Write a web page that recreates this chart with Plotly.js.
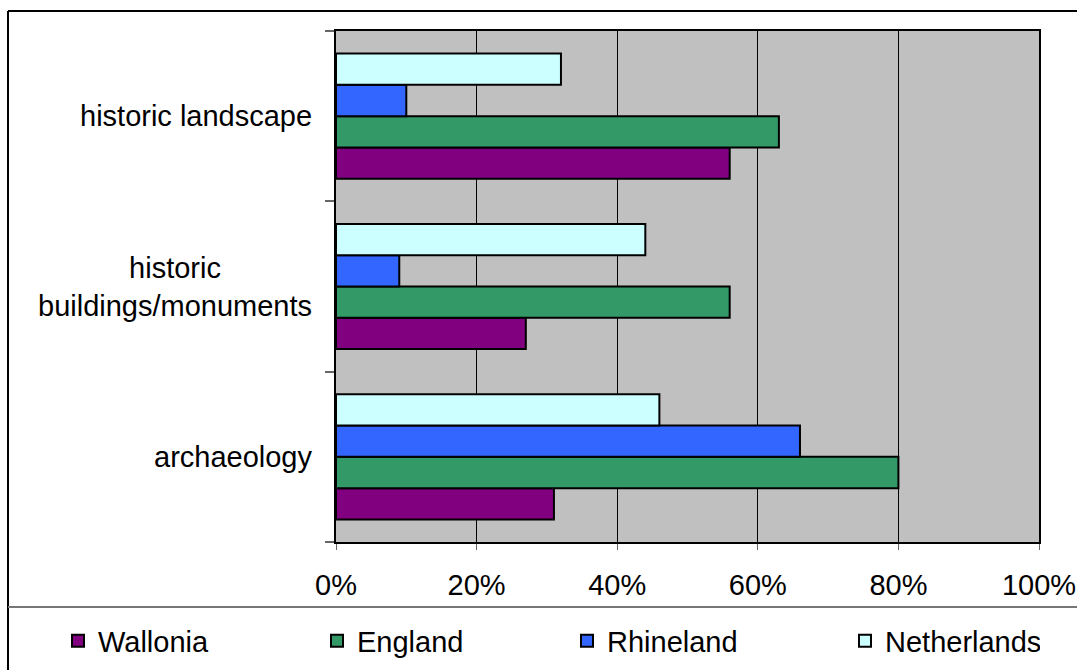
<!DOCTYPE html>
<html>
<head>
<meta charset="utf-8">
<script src="https://cdn.plot.ly/plotly-3.0.1.min.js"></script>
<style>
html,body{margin:0;padding:0;background:#fff;}
#chart{width:1077px;height:670px;}
</style>
</head>
<body>
<div id="chart"></div>
<script>
// Data
const categories = ["archaeology", "historic buildings/monuments", "historic landscape"];
const categoryLabels = ["archaeology", "historic<br>buildings/monuments", "historic landscape"];
const seriesNames = ["Wallonia", "England", "Rhineland", "Netherlands"];
const wallonia = [31, 27, 56];
const england = [80, 56, 63];
const rhineland = [66, 9, 10];
const netherlands = [46, 44, 32];
const xTickValues = [0, 20, 40, 60, 80, 100];

const seriesValues = [wallonia, england, rhineland, netherlands];
const seriesColors = ["#800080", "#339966", "#3366FF", "#CCFFFF"];
const legendWidths = [214, 205, 233, 150];

const FONT = "Arial, 'Liberation Sans', sans-serif";
const FS = 29;

const traces = seriesNames.map((name, i) => ({
  type: "bar",
  orientation: "h",
  name: name,
  y: categories,
  x: seriesValues[i],
  legendwidth: legendWidths[i],
  marker: {color: seriesColors[i], line: {color: "#000000", width: 2}},
  hoverinfo: "x+name"
}));

// plot area: x 336..1039, y 31..542
const L = 336, R = 1039, T = 31, B = 542, W = 1077, H = 670;
const px = v => (v - L) / (R - L);
const py = v => (B - v) / (B - T);

const annotations = categories.map((c, i) => ({
  xref: "paper", yref: "y",
  x: px(314), y: c,
  xanchor: "right", yanchor: "middle",
  align: "center",
  text: categoryLabels[i],
  showarrow: false,
  font: {family: FONT, size: FS, color: "#000"}
}));

const layout = {
  width: W, height: H,
  margin: {l: L, r: W - R, t: T, b: H - B, pad: 0, autoexpand: false},
  paper_bgcolor: "#ffffff",
  plot_bgcolor: "#C0C0C0",
  barmode: "group",
  bargap: 0.265,
  bargroupgap: 0,
  font: {family: FONT, size: FS, color: "#000"},
  showlegend: true,
  legend: {
    orientation: "h",
    x: px(58), y: py(641),
    xanchor: "left", yanchor: "middle",
    traceorder: "normal",
    entrywidthmode: "pixels",
    font: {family: FONT, size: FS, color: "#000"},
    bgcolor: "rgba(0,0,0,0)"
  },
  xaxis: {
    range: [0, 100],
    tickvals: xTickValues,
    ticktext: xTickValues.map(v => v + "%"),
    showgrid: true, gridcolor: "#000000", gridwidth: 1,
    zeroline: false,
    showline: true, linecolor: "#000000", linewidth: 2, mirror: true,
    ticks: "outside", ticklen: 6, tickcolor: "#666666", tickwidth: 1,
    ticklabelstandoff: 10,
    tickfont: {family: FONT, size: FS, color: "#000"},
    fixedrange: true
  },
  yaxis: {
    type: "category",
    categoryorder: "array",
    categoryarray: categories,
    showticklabels: false,
    tickson: "boundaries",
    ticks: "outside", ticklen: 9, tickcolor: "#666666", tickwidth: 2,
    showgrid: false,
    zeroline: false,
    showline: true, linecolor: "#000000", linewidth: 2, mirror: true,
    fixedrange: true
  },
  annotations: annotations,
  shapes: [
    // outer frame: top and left edges
    {type: "line", xref: "paper", yref: "paper", x0: px(8), x1: px(1077), y0: py(11), y1: py(11), line: {color: "#000", width: 2}},
    {type: "line", xref: "paper", yref: "paper", x0: px(8), x1: px(8), y0: py(11), y1: py(670), line: {color: "#000", width: 2}},
    // separator above legend
    {type: "line", xref: "paper", yref: "paper", x0: px(8), x1: px(1077), y0: py(607), y1: py(607), line: {color: "#777", width: 2}}
  ]
};

Plotly.newPlot("chart", traces, layout, {displayModeBar: false, staticPlot: true});
</script>
</body>
</html>
